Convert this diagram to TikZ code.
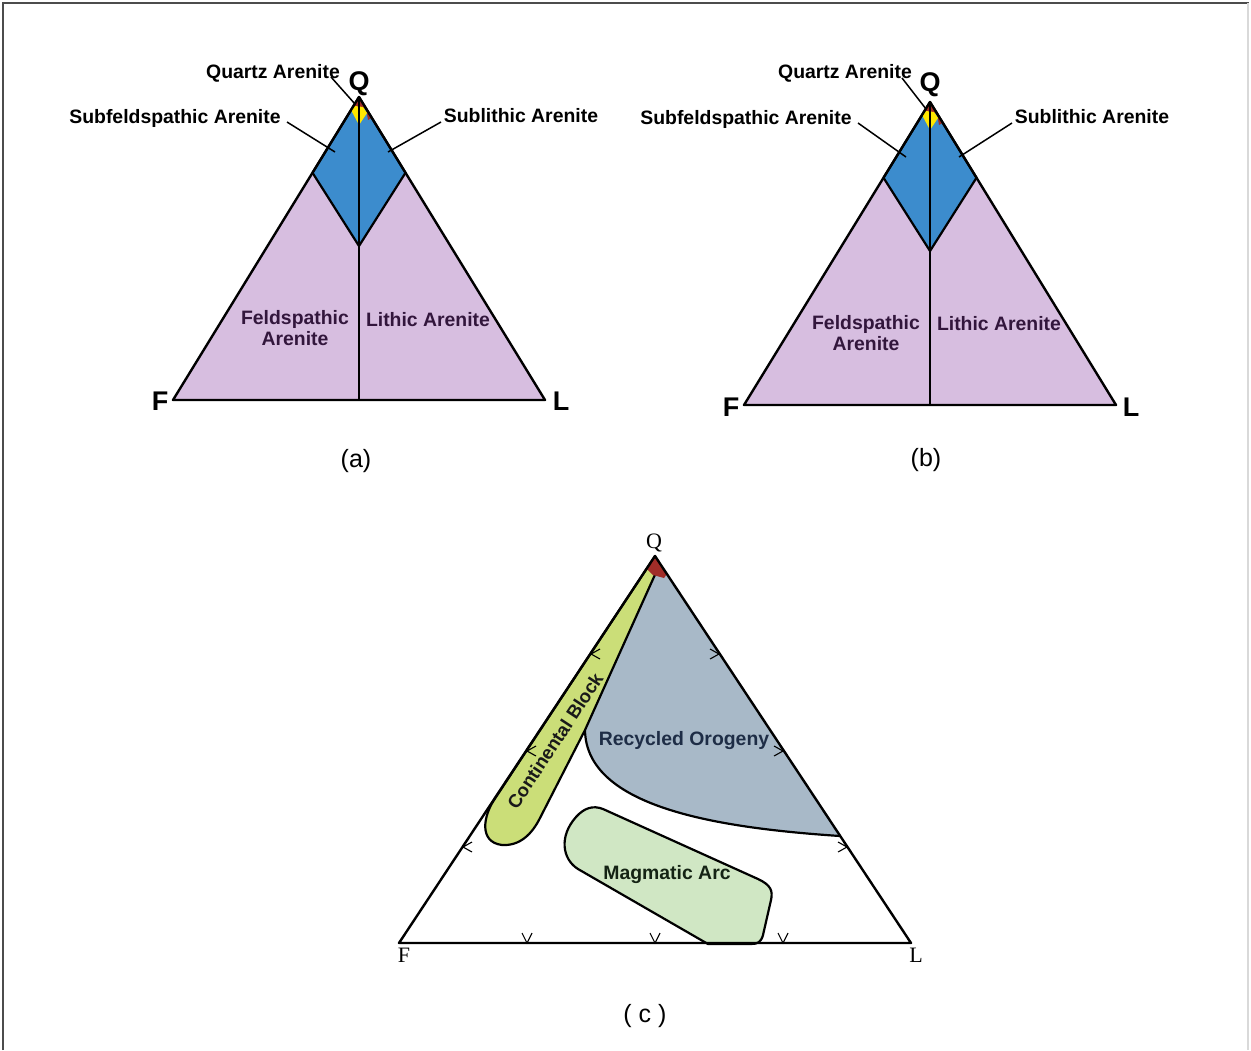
\documentclass[tikz,border=0pt]{standalone}
\usepackage{fontspec}
\setmainfont{Liberation Sans}
\newfontfamily\serifqfl{Liberation Serif}
\definecolor{purp}{RGB}{215,190,224}
\definecolor{bluer}{RGB}{60,140,205}
\definecolor{yel}{RGB}{255,230,0}
\definecolor{redb}{RGB}{160,45,40}
\definecolor{grayreg}{RGB}{168,185,200}
\definecolor{contg}{RGB}{203,222,120}
\definecolor{magg}{RGB}{208,231,196}
\definecolor{purptxt}{RGB}{50,22,60}
\definecolor{navytxt}{RGB}{30,45,70}
\definecolor{greentxt}{RGB}{20,35,20}
\newcommand{\drawQFL}{%
  \fill[purp] (359,97) -- (173,400) -- (545,400) -- cycle;
  \draw[fill=bluer, line width=1.1pt, line join=round] (359,97) -- (312.5,172.75) -- (359,246) -- (405.5,172.75) -- cycle;
  \fill[redb] (359,96) -- (351,109) -- (366,108) -- (368,120) -- (371.5,118) -- cycle;
  \fill[yel] (351,110) -- (355,106) -- (363,107) -- (367,113) -- (359,125) -- cycle;
  \draw[line width=0.8pt] (359,97) -- (359,400);
  \draw[line width=1.2pt, line join=round] (359,97) -- (173,400) -- (545,400) -- cycle;
}
\tikzset{
  lbl/.style={font=\fontsize{9.7}{10.5}\selectfont\bfseries, inner sep=0pt},
  inlbl/.style={lbl, text=purptxt, align=center},
  corner/.style={font=\fontsize{13.5}{15}\selectfont\bfseries, inner sep=0pt},
  caption/.style={font=\fontsize{12.5}{14}\selectfont, inner sep=0pt},
  leader/.style={line width=0.75pt},
  serifcorner/.style={font=\serifqfl\fontsize{11}{12}\selectfont, inner sep=0pt},
  tick/.style={line width=0.55pt}
}
\begin{document}
\begin{tikzpicture}[x=0.5pt, y=-0.5pt]
\useasboundingbox (0,0) rectangle (1251,1050);
\fill[white] (0,0) rectangle (1251,1050);
% frame
\draw[line width=1pt, black!70] (3,1050) -- (3,3) -- (1249,3);
\draw[line width=0.6pt, black!15] (1248,3) -- (1248,1050);

% ---------------- (a) ----------------
\drawQFL
\node[corner] (qa) at (359,84) {Q};
\node[corner] (fa) at (160,401) {F};
\node[corner] (la) at (561,401) {L};
\node[lbl] (qarA) at (273,73) {Quartz Arenite};
\node[lbl] (sfA) at (175,118) {Subfeldspathic Arenite};
\node[lbl] (slA) at (521,116) {Sublithic Arenite};
\node[inlbl] (feA) at (295,328) {Feldspathic\\Arenite};
\node[inlbl] (liA) at (428,320) {Lithic Arenite};
\node[caption] (capA) at (356,461) {(a)};
\coordinate (qarA1) at (331,77);
\coordinate (qarA2) at (355,104);
\coordinate (sfA1) at (287,122);
\coordinate (sfA2) at (335,152);
\coordinate (slA1) at (441,122);
\coordinate (slA2) at (388,152);
\draw[leader] (qarA1) -- (qarA2);
\draw[leader] (sfA1) -- (sfA2);
\draw[leader] (slA1) -- (slA2);

% ---------------- (b) ----------------
\begin{scope}[shift={(571,5)}]
\drawQFL
\end{scope}
\node[corner] (qb) at (930,85) {Q};
\node[corner] (fb) at (731,407) {F};
\node[corner] (lb) at (1131,407) {L};
\node[lbl] (qarB) at (845,73) {Quartz Arenite};
\node[lbl] (sfB) at (746,119) {Subfeldspathic Arenite};
\node[lbl] (slB) at (1092,117) {Sublithic Arenite};
\node[inlbl] (feB) at (866,333) {Feldspathic\\Arenite};
\node[inlbl] (liB) at (999,324) {Lithic Arenite};
\node[caption] (capB) at (926,460) {(b)};
\coordinate (qarB1) at (902,78);
\coordinate (qarB2) at (926,109);
\coordinate (sfB1) at (858,123);
\coordinate (sfB2) at (906,157);
\coordinate (slB1) at (1012,123);
\coordinate (slB2) at (959,157);
\draw[leader] (qarB1) -- (qarB2);
\draw[leader] (sfB1) -- (sfB2);
\draw[leader] (slB1) -- (slB2);

% ---------------- (c) ----------------
\coordinate (Qc) at (655,556);
\coordinate (Fc) at (399,943);
\coordinate (Lc) at (911,943);
% recycled orogeny
\fill[grayreg] (Qc) -- (840,836) .. controls (720,828) and (586,808) .. (585,730) -- cycle;
\draw[line width=1.1pt] (840,836) .. controls (720,828) and (586,808) .. (585,730);
% continental block
\draw[fill=contg, line width=1.1pt, line join=round] (Qc) -- (494,800) .. controls (484,815) and (478,842) .. (502,845) .. controls (520,846) and (532,834) .. (540,818) -- (585,730) -- (658,568) -- cycle;
% magmatic arc
\draw[fill=magg, line width=1.1pt, line join=round] (603,809) -- (758,879) .. controls (771,885) and (773,891) .. (771,900) -- (763,935) .. controls (761,942) and (758,944) .. (751,944) -- (708,944) -- (578,869) .. controls (562,859) and (559,836) .. (576,817) .. controls (584,808) and (593,805) .. (603,809) -- cycle;
% red tip
\fill[redb] (655,556) -- (647,569) -- (653,575) -- (664,578) -- (667,574) -- cycle;
% triangle
\draw[line width=1.2pt, line join=round] (Qc) -- (Fc) -- (Lc) -- cycle;
% ticks
\foreach \x in {527,655,783} {\draw[tick] (\x-5,933) -- (\x,943) -- (\x+5,933);}
\foreach \p in {(463,847),(527,751),(591,654)} {\draw[tick] \p ++(9,-5) -- \p -- ++(9,5);}
\foreach \p in {(847,847),(783,751),(719,654)} {\draw[tick] \p ++(-9,-5) -- \p -- ++(-9,5);}
\node[serifcorner] (qc) at (654,543) {Q};
\node[serifcorner] (fc) at (404,955) {F};
\node[serifcorner] (lc) at (916,955) {L};
\node[lbl, text=navytxt] (ro) at (684,741) {Recycled Orogeny};
\node[lbl, text=greentxt] (ma) at (667,875) {Magmatic Arc};
\node[lbl, text=black!90, rotate=56.6, font=\fontsize{9.3}{10}\selectfont\bfseries] (cb) at (555,741) {Continental Block};
\node[caption] (capC) at (645,1016) {( c )};
\end{tikzpicture}
\end{document}
